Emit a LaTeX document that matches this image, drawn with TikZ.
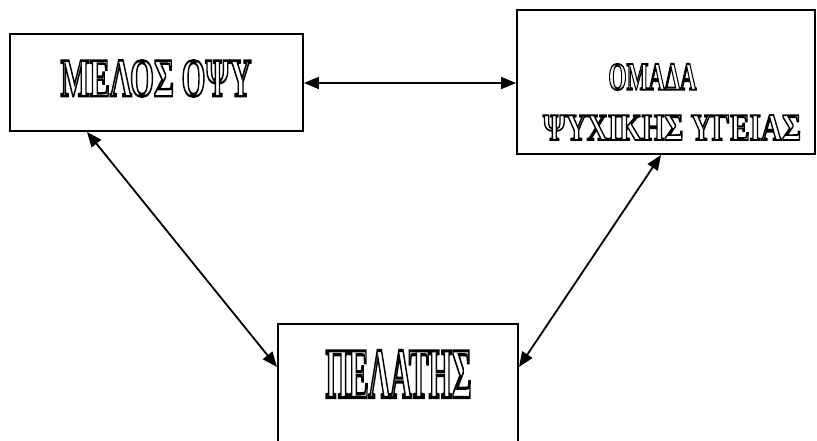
\documentclass[tikz,border=0pt]{standalone}
\usepackage{fontspec}
\setmainfont{Liberation Serif}
\usetikzlibrary{arrows.meta}
\newcommand{\hollow}[3]{\resizebox{#1}{#2}{\fontsize{40pt}{40pt}\selectfont\bfseries\special{pdf:literal direct 1 Tr 1.8 w}#3\special{pdf:literal direct 0 Tr}}}
\begin{document}
\begin{tikzpicture}[x=1pt,y=-1pt,
  box/.style={draw,line width=1.8pt,minimum width=#1,inner sep=0pt},
  conn/.style={line width=1.8pt,{Triangle[length=15pt,width=12pt]}-{Triangle[length=15pt,width=12pt]}},
  lbl/.style={inner sep=0pt,anchor=center}]
\useasboundingbox (0,0) rectangle (817,441);
\clip (0,0) rectangle (817,441);
\fill[white] (0,0) rectangle (817,441);
% boxes
\node[box=293pt,minimum height=97pt] (melos) at (156.5,82.5) {};
\node[box=298pt,minimum height=144pt] (omada) at (666,82) {};
\node[box=240pt,minimum height=180pt] (pelatis) at (398,414) {};
% texts
\node[lbl] (t1) at (156,78.5) {\hollow{191pt}{36pt}{ΜΕΛΟΣ ΟΨΥ}};
\node[lbl] (t2) at (652.5,77) {\hollow{88pt}{26pt}{ΟΜΑΔΑ}};
\node[lbl] (t3) at (672,127.5) {\hollow{258pt}{25pt}{ΨΥΧΙΚΗΣ ΥΓΕΙΑΣ}};
\node[lbl] (t4) at (398.5,374) {\hollow{146pt}{47pt}{ΠΕΛΑΤΗΣ}};
% connectors
\coordinate (a1) at (melos.east |- 0,83);
\coordinate (a2) at (omada.west |- 0,83);
\draw[conn] (a1) -- (a2);
\coordinate (b1) at (87,132);
\coordinate (b2) at (277,367);
\draw[conn] (b1) -- (b2);
\coordinate (c1) at (661,155);
\coordinate (c2) at (519,367);
\draw[conn] (c1) -- (c2);
\end{tikzpicture}
\end{document}
